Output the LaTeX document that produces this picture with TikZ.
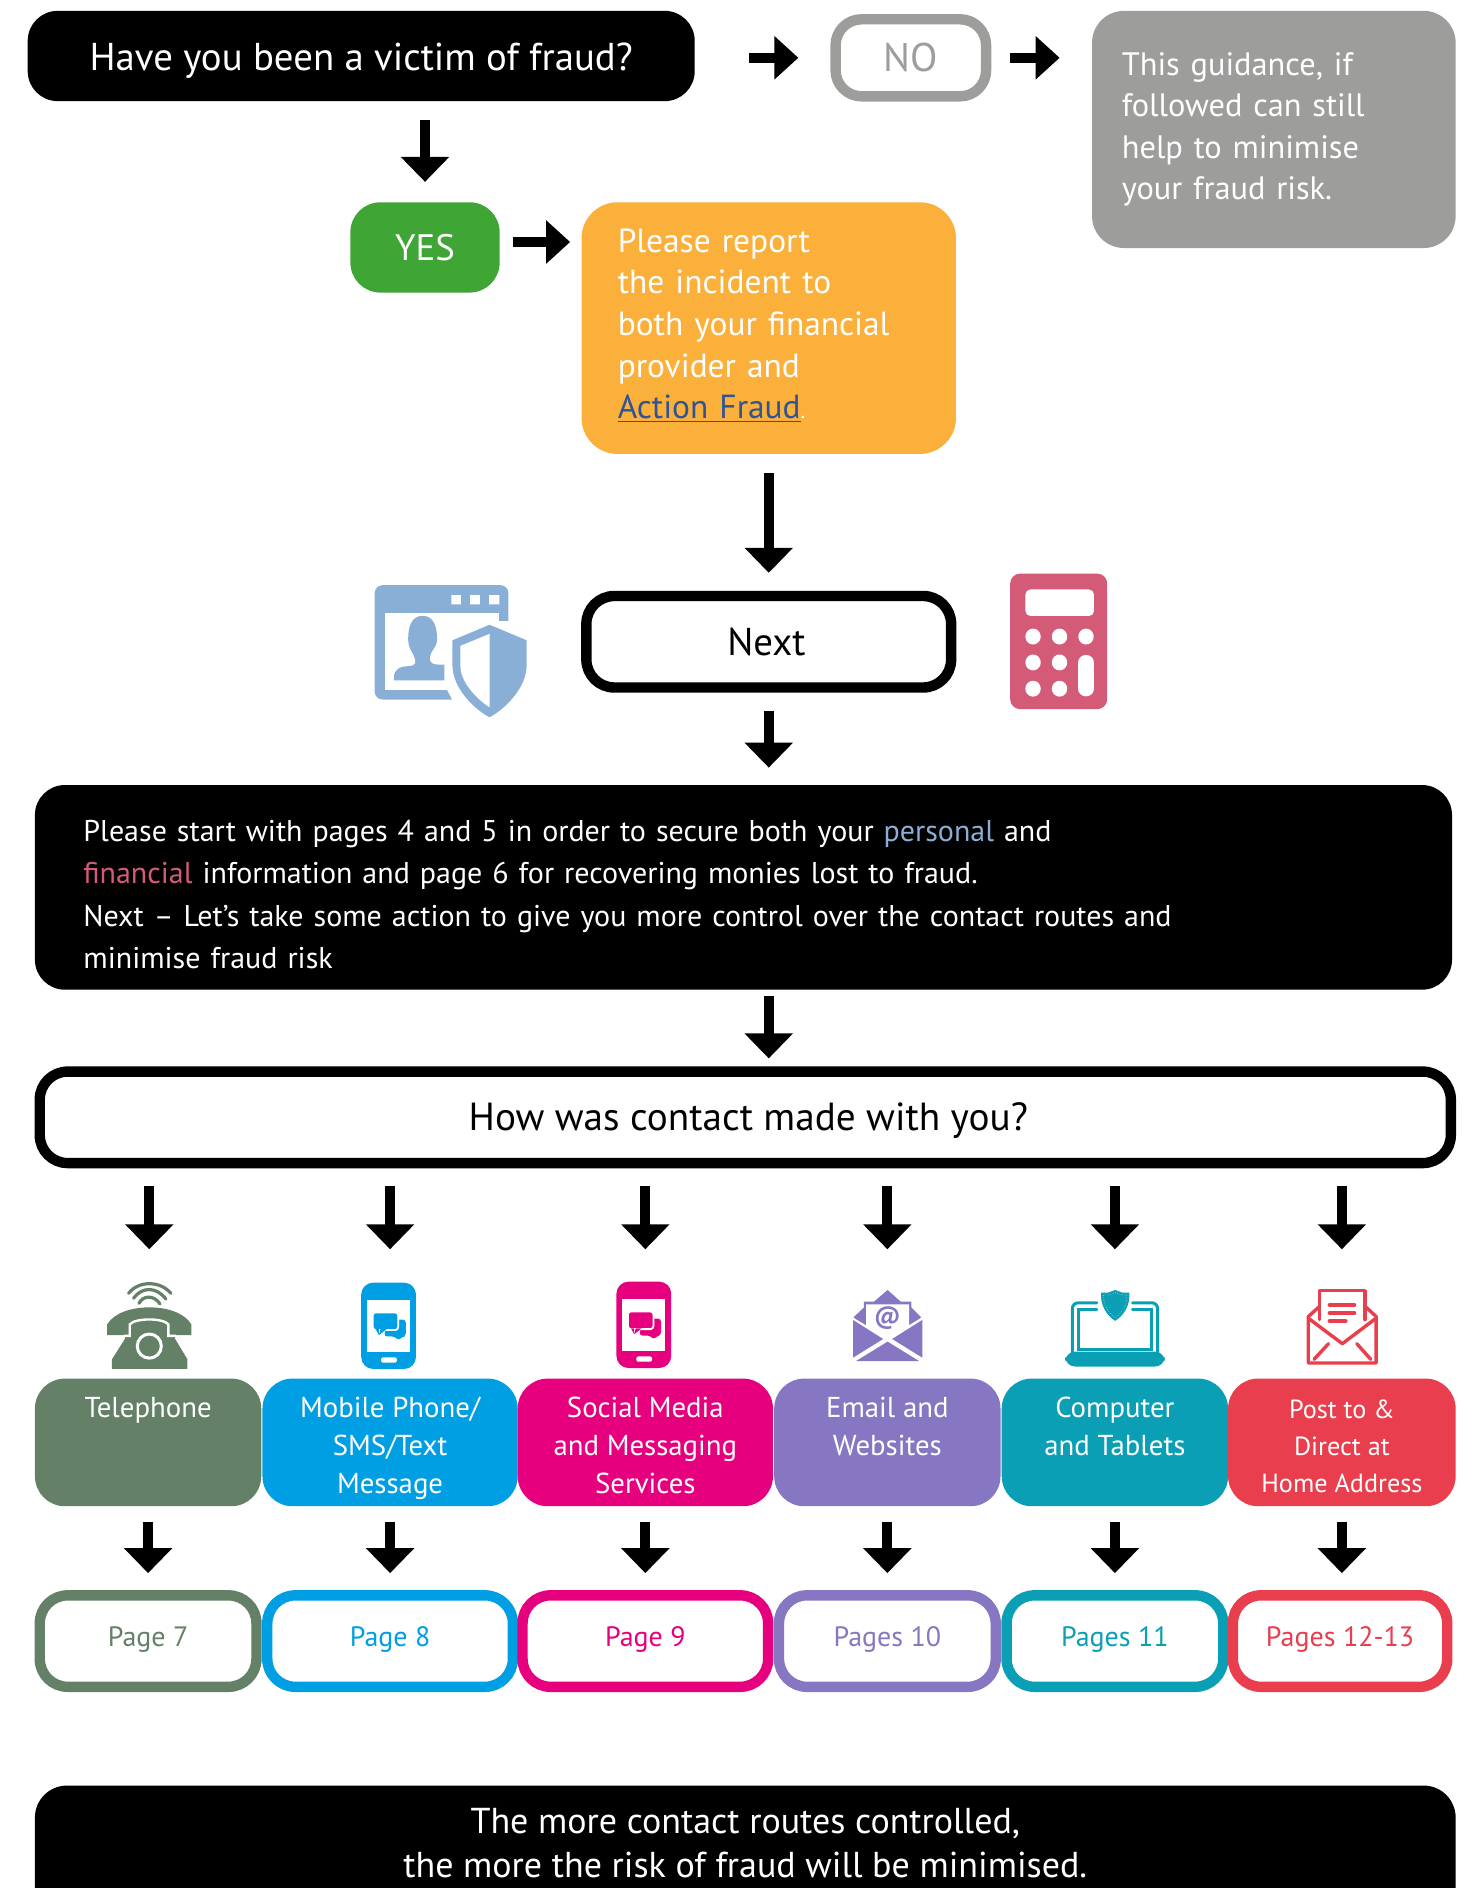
\documentclass[tikz,border=0pt]{standalone}
\usepackage{fontspec}
\setmainfont{PT Sans}
\usetikzlibrary{arrows.meta,calc}
\definecolor{cNo}{HTML}{9D9D9C}
\definecolor{cYes}{HTML}{3FA535}
\definecolor{cOr}{HTML}{FBB03B}
\definecolor{cLink}{HTML}{2F5496}
\definecolor{cPers}{HTML}{8AAFD6}
\definecolor{cFin}{HTML}{D45B78}
\definecolor{cTel}{HTML}{648168}
\definecolor{cMob}{HTML}{009FE3}
\definecolor{cSoc}{HTML}{E6007E}
\definecolor{cMail}{HTML}{8777C2}
\definecolor{cComp}{HTML}{0A9FB5}
\definecolor{cPost}{HTML}{E83E4D}
\tikzset{
  solidbox/.style={fill=#1,text=white,rounded corners=15pt},
  ringbox/.style={draw=#1,line width=5.2pt,fill=white,rounded corners=14pt},
  bigarrow/.style={-{Triangle[length=12.5pt,width=23.5pt]},line width=5pt,black},
  sidearrow/.style={-{Triangle[length=12pt,width=21pt]},line width=5pt,black},
  routetext/.style={font=\fontsize{14.4}{18.8}\selectfont,align=center},
  pagetext/.style={font=\fontsize{14}{16}\selectfont,text=#1},
  paratext/.style={align=left,font=\fontsize{15}{21.2}\selectfont},
}
% box given by its corners in the picture's units
\newcommand\bx[7]{%
  \pgfmathsetmacro\bW{(#4-#2)*0.602}%
  \pgfmathsetmacro\bH{(#5-#3)*0.602}%
  \node[#6,minimum width=\bW pt,minimum height=\bH pt,inner sep=0pt] (#1) at ({(#2+#4)/2},{(#3+#5)/2}) {#7};}
\newcommand\rowtext[3]{\rule{0pt}{17pt}#1\\#2\\#3\rule[-4pt]{0pt}{4pt}}
\newcommand\pagelabel[1]{#1\rule[-4.8pt]{0pt}{4.8pt}}
\newcommand\phoneicon[3]{%
  \begin{scope}[shift={(#1,#2)}]
    \fill[#3,rounded corners=6pt] (300,1065.3) rectangle (345.5,1137);
    \fill[white] (305,1079.7) rectangle (340.7,1122.7);
    \fill[white,rounded corners=1pt] (316.5,1127.4) rectangle (329.6,1131.8);
    \fill[#3,rounded corners=1.5pt] (322,1096) -- (337,1096) -- (337,1110) -- (334,1110) -- (331,1113.5) -- (328,1110) -- (319,1110) -- cycle;
    \fill[#3,rounded corners=1.5pt,draw=white,line width=.9pt] (309.5,1090) rectangle (330.7,1104.7);
    \fill[#3] (312,1104) -- (314.7,1108.8) -- (314.7,1104) -- cycle;
    \fill[#3] (316,1104) -- (314.7,1109) -- (321,1104) -- cycle;
  \end{scope}}
\begin{document}
\begin{tikzpicture}[x=0.602pt,y=-0.602pt]
\useasboundingbox (0,0) rectangle (1222.6,1568.1);
\clip (0,0) rectangle (1222.6,1568.1);

% ---- upper part
\bx{q}{23}{9}{577}{84}{solidbox=black,font=\fontsize{19.4}{22}\selectfont}{\rule{0pt}{18pt}Have you been a victim of fraud?}
\bx{no}{694}{16}{819}{80}{ringbox=cNo,text=cNo,rounded corners=13pt,font=\fontsize{20}{22}\selectfont}{NO}
\bx{gray}{907}{9}{1209}{206}{solidbox=cNo,font=\fontsize{16.2}{20.8}\selectfont,align=left,text width=152pt,rounded corners=16pt}{This guidance, if\\followed can still\\help to minimise\\your fraud risk.}
\bx{yes}{291}{168}{415}{243}{solidbox=cYes,font=\fontsize{18.4}{22}\selectfont}{YES}
\bx{report}{483}{168}{794}{377}{solidbox=cOr,font=\fontsize{16.7}{20.8}\selectfont,align=left,text width=151pt,rounded corners=18pt}{Please report\\the incident to\\both your financial\\provider and\\\textcolor{cLink}{\underline{Action Fraud}}{\fontsize{11}{11}\selectfont.}\rule[-4.5pt]{0pt}{4.5pt}}
\bx{next}{487}{495}{790}{571}{ringbox=black,font=\fontsize{19.4}{22}\selectfont}{Next\kern2.4pt}
\bx{para}{29}{652}{1206}{822}{solidbox=black,paratext,text width=660pt}{\rule{0pt}{18pt}Please start with pages 4 and 5 in order to secure both your \textcolor{cPers}{personal} and\\\textcolor{cFin}{financial} information and page 6 for recovering monies lost to fraud.\\Next – Let’s take some action to give you more control over the contact routes and\\minimise fraud risk}
\bx{contact}{33}{890}{1205}{966}{ringbox=black,font=\fontsize{19.6}{22}\selectfont}{\kern3pt\rule{0pt}{17pt}How was contact made with you?}

% ---- routes
\bx{rTel}{29}{1145}{217}{1251}{solidbox=cTel,routetext}{\rowtext{Telephone}{}{}}
\bx{rMob}{218}{1145}{430}{1251}{solidbox=cMob,routetext}{\rowtext{Mobile Phone/}{SMS/Text}{Message}}
\bx{rSoc}{430}{1145}{642}{1251}{solidbox=cSoc,routetext}{\rowtext{Social Media}{and Messaging}{Services}}
\bx{rMail}{643}{1145}{831}{1251}{solidbox=cMail,routetext}{\rowtext{Email and}{Websites}{}}
\bx{rComp}{832}{1145}{1020}{1251}{solidbox=cComp,routetext}{\rowtext{Computer}{and Tablets}{}}
\bx{rPost}{1020}{1145}{1209}{1251}{solidbox=cPost,routetext,font=\fontsize{13.1}{18.5}\selectfont}{\rowtext{Post to \&}{Direct at}{Home Address}}

% ---- pages
\bx{pTel}{33}{1325}{213}{1401}{ringbox=cTel,pagetext=cTel}{\pagelabel{Page 7}}
\bx{pMob}{222}{1325}{426}{1401}{ringbox=cMob,pagetext=cMob}{\pagelabel{Page 8}}
\bx{pSoc}{434}{1325}{638}{1401}{ringbox=cSoc,pagetext=cSoc}{\pagelabel{Page 9}}
\bx{pMail}{647}{1325}{827}{1401}{ringbox=cMail,pagetext=cMail}{\pagelabel{Pages 10}}
\bx{pComp}{836}{1325}{1016}{1401}{ringbox=cComp,pagetext=cComp}{\pagelabel{Pages 11}}
\bx{pPost}{1024}{1325}{1202}{1401}{ringbox=cPost,pagetext=cPost}{\pagelabel{Pages 12-13}}

\bx{final}{29}{1483}{1209}{1610}{solidbox=black,rounded corners=16pt}{}
\node[font=\fontsize{18}{22.2}\selectfont,align=center,text=white,inner sep=0pt] (finaltext) at (619,1531) {The more contact routes controlled,\\the more the risk of fraud will be minimised.};

% ---- icon anchors
\coordinate (iTel) at (124,1065);
\coordinate (iMob) at (rMob.north |- iTel);
\coordinate (iSoc) at (rSoc.north |- iTel);
\coordinate (iMail) at (rMail.north |- iTel);
\coordinate (iComp) at (rComp.north |- iTel);
\coordinate (iPost) at (rPost.north |- iTel);
\coordinate (yesOut) at (415,201);

% ---- connectors
\draw[sidearrow,shorten <=27pt,shorten >=16pt] (q.east |- no.west) -- (no.west);
\draw[sidearrow,shorten <=9.5pt,shorten >=16pt] (no.east) -- (no.east -| gray.west);
\draw[bigarrow,shorten <=9pt,shorten >=10pt] (q.south -| yes.north) -- (yes.north);
\draw[sidearrow,shorten <=6.5pt,shorten >=5.5pt] (yesOut) -- (yesOut -| report.west);
\draw[bigarrow,shorten <=9.5pt,shorten >=9pt] (report.south) -- (report.south |- next.north);
\draw[bigarrow,shorten <=9pt,shorten >=8.5pt] (next.south) -- (next.south |- para.north);
\draw[bigarrow,shorten <=3pt,shorten >=4pt] (next.south |- para.south) -- (next.south |- contact.north);
\foreach \r/\i/\p in {rTel/iTel/pTel,rMob/iMob/pMob,rSoc/iSoc/pSoc,rMail/iMail/pMail,rComp/iComp/pComp,rPost/iPost/pPost}{
  \draw[bigarrow,shorten <=9pt,shorten >=16.5pt] (\i |- contact.south) -- (\i);
  \draw[bigarrow,shorten <=7.5pt,shorten >=8.5pt] (\r.south) -- (\r.south |- \p.north);
}

% ---- identity icon
\fill[cPers,rounded corners=4pt] (311.2,486) rectangle (422.3,581);
\fill[white] (319.6,509.5) rectangle (414.7,573.3);
\fill[white] (374.8,494.3) rectangle (382.8,502) (390.5,494.3) rectangle (398.6,502) (406.2,494.3) rectangle (414.7,502);
\fill[white] (414,515.5) rectangle (424,583);
\fill[white] (371.4,573) -- (424,573) -- (424,583) -- (376.5,583) -- cycle;
\fill[cPers] (351,511.5) .. controls (342,511.5) and (339,520) .. (339,531) .. controls (339,540) and (345,544) .. (345,549) .. controls (345,556) and (335,551) .. (330,556) .. controls (327,559) and (327,562) .. (327,565) -- (369,565) -- (369,552) .. controls (360,552) and (357,552) .. (357,546) .. controls (357,541) and (363,538) .. (363,531) .. controls (363,520) and (360,511.5) .. (351,511.5) -- cycle;
\fill[cPers,draw=white,line width=1.2pt] (406.6,517.7) -- (438.4,531) -- (438.4,553) .. controls (438.4,572) and (420,590) .. (406.6,597) .. controls (393,590) and (374.8,572) .. (374.8,553) -- (374.8,531) -- cycle;
\fill[white] (406.6,526.5) -- (382.4,536.4) -- (382.4,553) .. controls (382.4,566) and (395,580) .. (406.6,587.4) -- cycle;

% ---- calculator icon
\fill[cFin,rounded corners=5pt] (839,476.4) rectangle (919.6,589);
\fill[white,rounded corners=2.5pt] (851.7,489.6) rectangle (908.6,511.6);
\foreach \cx/\cy in {858/528.7,880/528.7,902/528.7,858/550.2,880/550.2,858/572,880/572}{
  \fill[white] (\cx,\cy) ellipse [x radius=6.4,y radius=6.6];}
\fill[white,rounded corners=3.8pt] (895.4,544) rectangle (908.6,578.3);

% ---- telephone icon
\begin{scope}[cTel,line width=1.6pt,line cap=round]
\draw (106.8,1074.2) .. controls (115,1063.5) and (133,1063.5) .. (142,1074.2);
\draw (110.9,1078.3) .. controls (118,1068.5) and (130,1068.5) .. (137.8,1079);
\draw (115.4,1082.5) .. controls (119,1075.5) and (128,1075.5) .. (132.9,1083);
\end{scope}
\fill[cTel] (89,1108.8) -- (89,1100) .. controls (95,1090) and (110,1085.8) .. (124,1085.8) .. controls (138,1085.8) and (153,1090) .. (159,1100) -- (159,1108.8) -- (146,1108.8) -- (145.2,1111.6) -- (155.7,1129) -- (155.7,1137) -- (93,1137) -- (93,1129) -- (104,1111.6) -- (103,1108.8) -- cycle;
\draw[white,line width=1.2pt] (103,1109.5) -- (107.8,1109.5) -- (107.8,1100) .. controls (112,1094.5) and (136,1094.5) .. (139.8,1100) -- (139.8,1109.5) -- (146,1109.5);
\draw[white,line width=1.5pt] (124,1118) ellipse [x radius=10,y radius=10];

% ---- mobile and social icons
\phoneicon{0}{0}{cMob}
\phoneicon{212}{-0.8}{cSoc}

% ---- e-mail icon
\begin{scope}[shift={(-4,0)}]
\fill[cMail] (741.2,1071.4) -- (752,1081) -- (761,1081) -- (761,1086) -- (769,1094) -- (762,1102) -- (720,1102) -- (713,1094) -- (721.4,1086) -- (721.4,1081) -- (730,1081) -- cycle;
\fill[white] (723.3,1083.3) -- (759.1,1083.3) -- (759.1,1103) -- (741.2,1112.5) -- (723.3,1103) -- cycle;
\path[fill=white] (712,1094) -- (741.2,1111.5) -- (770,1094) -- (770,1099) -- (741.2,1118) -- (712,1099) -- cycle;
\node[text=cMail,font=\fontsize{12.5}{12.5}\bfseries\selectfont,inner sep=0pt] (mailat) at (741,1094.5) {@};
\fill[cMail] (712.5,1096.3) -- (737.5,1112.1) -- (712.5,1127.6) -- cycle;
\fill[cMail] (770,1096.3) -- (745,1112.1) -- (770,1127.6) -- cycle;
\fill[cMail] (715,1130.4) -- (741.2,1114.3) -- (767.3,1130.4) -- cycle;
\end{scope}

% ---- laptop icon
\begin{scope}[shift={(-5,0)}]
\begin{scope}[cComp,line cap=round]
\draw[line width=1.5pt,rounded corners=3pt] (916,1082) -- (895.6,1082) -- (895.6,1124);
\draw[line width=1.5pt,rounded corners=3pt] (945.6,1082) -- (966.5,1082) -- (966.5,1124);
\draw[line width=1.5pt] (916,1087.5) -- (901,1087.5) -- (901,1120.5) -- (961,1120.5) -- (961,1087.5) -- (945.6,1087.5);
\end{scope}
\fill[cComp,rounded corners=5pt] (889.7,1122.6) -- (972.5,1122.6) -- (972.5,1135) -- (889.7,1135) -- cycle;
\fill[cComp] (931.2,1071.4) -- (937,1073.5) -- (943,1073.5) .. controls (944,1084) and (938,1093) .. (931.2,1097) .. controls (924.5,1093) and (918.5,1084) .. (919.5,1073.5) -- (925.5,1073.5) -- cycle;
\draw[white,line width=.25pt,densely dotted] (931.2,1073.5) -- (936.5,1075.5) -- (940.8,1075.5) .. controls (941.5,1084) and (936.5,1091) .. (931.2,1094.5) .. controls (926,1091) and (921,1084) .. (921.7,1075.5) -- (926,1075.5) -- cycle;
\end{scope}

% ---- post icon
\begin{scope}[shift={(-6,0)}]
\begin{scope}[cPost,line width=1.7pt,line join=round,line cap=round]
\draw (1102,1096) -- (1102,1072) -- (1139.8,1072) -- (1139.8,1096);
\draw (1102,1085) -- (1092.6,1093.5) -- (1092.6,1132) -- (1149,1132) -- (1149,1093.5) -- (1139.8,1085);
\draw (1093.5,1095.5) -- (1120.9,1116) -- (1148,1095.5);
\draw (1109.4,1116) -- (1097.4,1129);
\draw (1132.9,1116) -- (1144.5,1129);
\end{scope}
\begin{scope}[cPost,line width=2.2pt,line cap=round]
\draw (1110.5,1083.9) -- (1130.7,1083.9);
\draw (1110.5,1090.5) -- (1130.7,1090.5);
\draw (1110.5,1097.2) -- (1123.5,1097.2);
\end{scope}
\end{scope}
\end{tikzpicture}
\end{document}
